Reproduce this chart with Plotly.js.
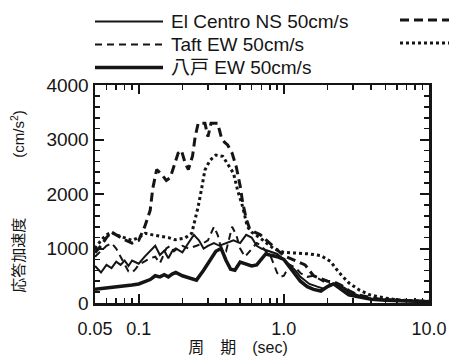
<!DOCTYPE html>
<html><head><meta charset="utf-8">
<script src="https://cdn.plot.ly/plotly-3.0.1.min.js"></script>
<style>html,body{margin:0;padding:0;background:#fff;}#chart{width:449px;height:357px;}</style>
</head><body><div id="chart"></div>
<script>
// ---- data (period in sec, response acceleration in cm/s^2) ----
var seriesNames = ["El Centro NS 50cm/s", "Taft EW 50cm/s", "八戸 EW 50cm/s", "JMA Kobe NS 50cm/s", "Tohoku Univ. NS 50cm/s"];

var periodElCentro = [0.05,0.055,0.06,0.065,0.07,0.075,0.08,0.085,0.09,0.1,0.11,0.12,0.13,0.14,0.15,0.16,0.17,0.18,0.2,0.22,0.24,0.26,0.28,0.3,0.33,0.36,0.4,0.45,0.5,0.55,0.6,0.65,0.7,0.8,0.9,1.0,1.1,1.2,1.3,1.5,1.7,1.9,2.2,2.5,2.8,3.2,3.6,4.0,5,6,8,10];
var accElCentro = [680,560,700,640,760,700,780,680,780,720,850,960,1050,880,960,820,950,1000,930,1100,1250,1150,1000,1050,1100,1050,1100,1150,1100,1250,1200,1050,1000,950,900,800,700,600,480,350,300,260,360,300,200,140,100,80,55,45,35,30];

var periodTaft = [0.05,0.055,0.06,0.065,0.07,0.075,0.08,0.085,0.09,0.095,0.1,0.11,0.12,0.13,0.14,0.155,0.165,0.175,0.185,0.2,0.22,0.25,0.28,0.3,0.33,0.35,0.37,0.4,0.44,0.47,0.5,0.54,0.6,0.65,0.7,0.75,0.8,0.85,0.9,0.95,1.0,1.1,1.2,1.3,1.45,1.6,1.8,2.0,2.3,2.6,3.0,3.5,4,5,6,8,10];
var accTaft = [850,950,1050,1100,1000,850,700,580,560,620,700,760,820,850,730,1000,1050,950,1000,1050,1000,1050,1100,1150,1400,1250,1000,950,1400,1250,1000,850,1000,1100,1050,950,900,700,550,480,500,700,650,550,480,500,420,350,330,280,170,110,80,55,40,30,25];

var periodHachinohe = [0.05,0.06,0.07,0.08,0.09,0.1,0.11,0.12,0.13,0.14,0.15,0.16,0.17,0.18,0.2,0.22,0.25,0.28,0.31,0.34,0.37,0.4,0.43,0.46,0.5,0.55,0.6,0.65,0.7,0.75,0.8,0.9,1.0,1.1,1.2,1.3,1.45,1.6,1.8,2.0,2.2,2.5,2.8,3.2,3.6,4,5,6,8,10];
var accHachinohe = [250,270,290,310,330,350,400,430,500,480,520,480,530,560,500,460,420,600,800,950,1000,780,620,600,750,720,680,700,800,900,880,850,800,650,500,400,300,250,220,300,350,250,150,120,90,70,50,40,30,25];

var periodLongDash = [0.05,0.055,0.06,0.065,0.07,0.08,0.09,0.1,0.11,0.12,0.125,0.133,0.145,0.155,0.165,0.178,0.187,0.197,0.21,0.22,0.235,0.245,0.257,0.27,0.286,0.3,0.315,0.33,0.35,0.37,0.39,0.41,0.44,0.47,0.5,0.52,0.55,0.58,0.63,0.69,0.76,0.84,0.92,1.0,1.1,1.25,1.4,1.6,1.8,2.0,2.2,2.5,2.8,3.2,3.8,4.5,6,8,10];
var accLongDash = [920,1050,1200,1300,1250,1160,1100,1150,1400,1700,2100,2450,2350,2250,2300,2550,2750,2800,2550,2450,2700,3050,3300,3300,3300,3050,3300,3300,3300,3050,2950,2900,2750,2500,2150,1850,1550,1370,1300,1250,1150,1030,950,870,820,750,700,500,450,400,390,320,230,150,110,75,50,35,30];

var periodDotted = [0.05,0.055,0.06,0.065,0.07,0.08,0.09,0.1,0.111,0.125,0.144,0.16,0.178,0.208,0.232,0.244,0.257,0.27,0.286,0.31,0.34,0.38,0.41,0.45,0.48,0.52,0.56,0.6,0.68,0.76,0.85,1.0,1.2,1.5,1.8,2.1,2.4,2.8,3.3,3.9,5,6,8,10];
var accDotted = [1000,1150,1250,1300,1250,1200,1150,1200,1280,1250,1220,1200,1160,1190,1280,1520,1770,2070,2440,2620,2715,2690,2560,2380,2070,1770,1400,1300,1200,1100,1000,930,920,900,870,760,560,370,240,150,90,60,40,30];

var xTickVals = [0.05, 0.1, 1, 10];
var xTickText = ["0.05", "0.1", "1.0", "10.0"];
var yTickVals = [0, 1000, 2000, 3000, 4000];
var yTickText = ["0", "1000", "2000", "3000", "4000"];

// ---- chart ----
var FONT = "Liberation Sans, Arial, Noto Sans CJK JP, sans-serif";
var INK = '#151515';
var W = 449, H = 357;
var M = {l: 95, r: 20, t: 85, b: 54};
var PW = W - M.l - M.r, PH = H - M.t - M.b;
var ZW = '\u200b';

var styles = [
  {dash: 'solid', width: 2},
  {dash: '7px,5px', width: 2},
  {dash: 'solid', width: 3.5},
  {dash: '9px,5px', width: 3},
  {dash: '3px,3px', width: 3}
];
var xs = [periodElCentro, periodTaft, periodHachinohe, periodLongDash, periodDotted];
var ys = [accElCentro, accTaft, accHachinohe, accLongDash, accDotted];

var data = xs.map(function(x, i) {
  return {x: x, y: ys[i], name: seriesNames[i], type: 'scatter', mode: 'lines', showlegend: false,
          line: {color: INK, width: styles[i].width, dash: styles[i].dash}};
});

// legend key (drawn in paper coordinates above the plot, like the printed legend)
function px2paperX(px) { return (px - M.l) / PW; }
function px2paperY(py) { return (H - M.b - py) / PH; }
var legendRows = [
  {series: 0, x0: 95, x1: 163, y: 21.5, label: true},
  {series: 1, x0: 95, x1: 163, y: 44.5, label: true},
  {series: 2, x0: 95, x1: 163, y: 67.5, label: true},
  {series: 3, x0: 400, x1: 470, y: 20, label: false},
  {series: 4, x0: 400, x1: 470, y: 43, label: false}
];
var shapes = legendRows.map(function(r) {
  return {type: 'line', xref: 'paper', yref: 'paper', layer: 'above',
          x0: px2paperX(r.x0), x1: px2paperX(r.x1), y0: px2paperY(r.y), y1: px2paperY(r.y),
          line: {color: INK, width: styles[r.series].width, dash: styles[r.series].dash}};
});
var annotations = legendRows.filter(function(r) { return r.label; }).map(function(r) {
  return {xref: 'paper', yref: 'paper', x: px2paperX(170), y: px2paperY(r.y), xanchor: 'left', yanchor: 'middle',
          text: seriesNames[r.series], showarrow: false, borderpad: 0,
          font: {family: FONT, size: 19, color: INK}};
});

var layout = {
  width: W, height: H,
  margin: {l: M.l, r: M.r, t: M.t, b: M.b, autoexpand: false},
  showlegend: false,
  shapes: shapes,
  annotations: annotations,
  xaxis: {
    type: 'log', range: [Math.log10(0.05), 1], automargin: false,
    tickmode: 'array', tickvals: xTickVals, ticktext: xTickText,
    ticks: 'inside', ticklen: 9, tickwidth: 2, tickcolor: INK,
    showline: true, linewidth: 2.5, linecolor: INK, mirror: 'allticks',
    showgrid: false, zeroline: false,
    tickfont: {family: FONT, size: 18, color: INK}, ticklabelstandoff: 8,
    minor: {dtick: 'D1', ticks: 'inside', ticklen: 5, tickwidth: 1.6, tickcolor: INK, showgrid: false},
    title: {text: '周　期　(sec)　　　' + ZW, font: {family: FONT, size: 16, color: INK}, standoff: 1}
  },
  yaxis: {
    range: [0, 4000], automargin: true, tickmode: 'array', tickvals: yTickVals, ticktext: yTickText,
    ticks: 'inside', ticklen: 9, tickwidth: 2, tickcolor: INK,
    showline: true, linewidth: 2.5, linecolor: INK, mirror: 'allticks',
    showgrid: false, zeroline: false,
    tickfont: {family: FONT, size: 19, color: INK}, ticklabelstandoff: 0,
    minor: {dtick: 200, ticks: 'inside', ticklen: 5, tickwidth: 1.6, tickcolor: INK, showgrid: false},
    title: {text: '応答加速度　　　　(cm/s<sup>2</sup>)　' + ZW, font: {family: FONT, size: 15, color: INK}, standoff: 18}
  }
};

Plotly.newPlot('chart', data, layout, {staticPlot: true});
</script></body></html>
